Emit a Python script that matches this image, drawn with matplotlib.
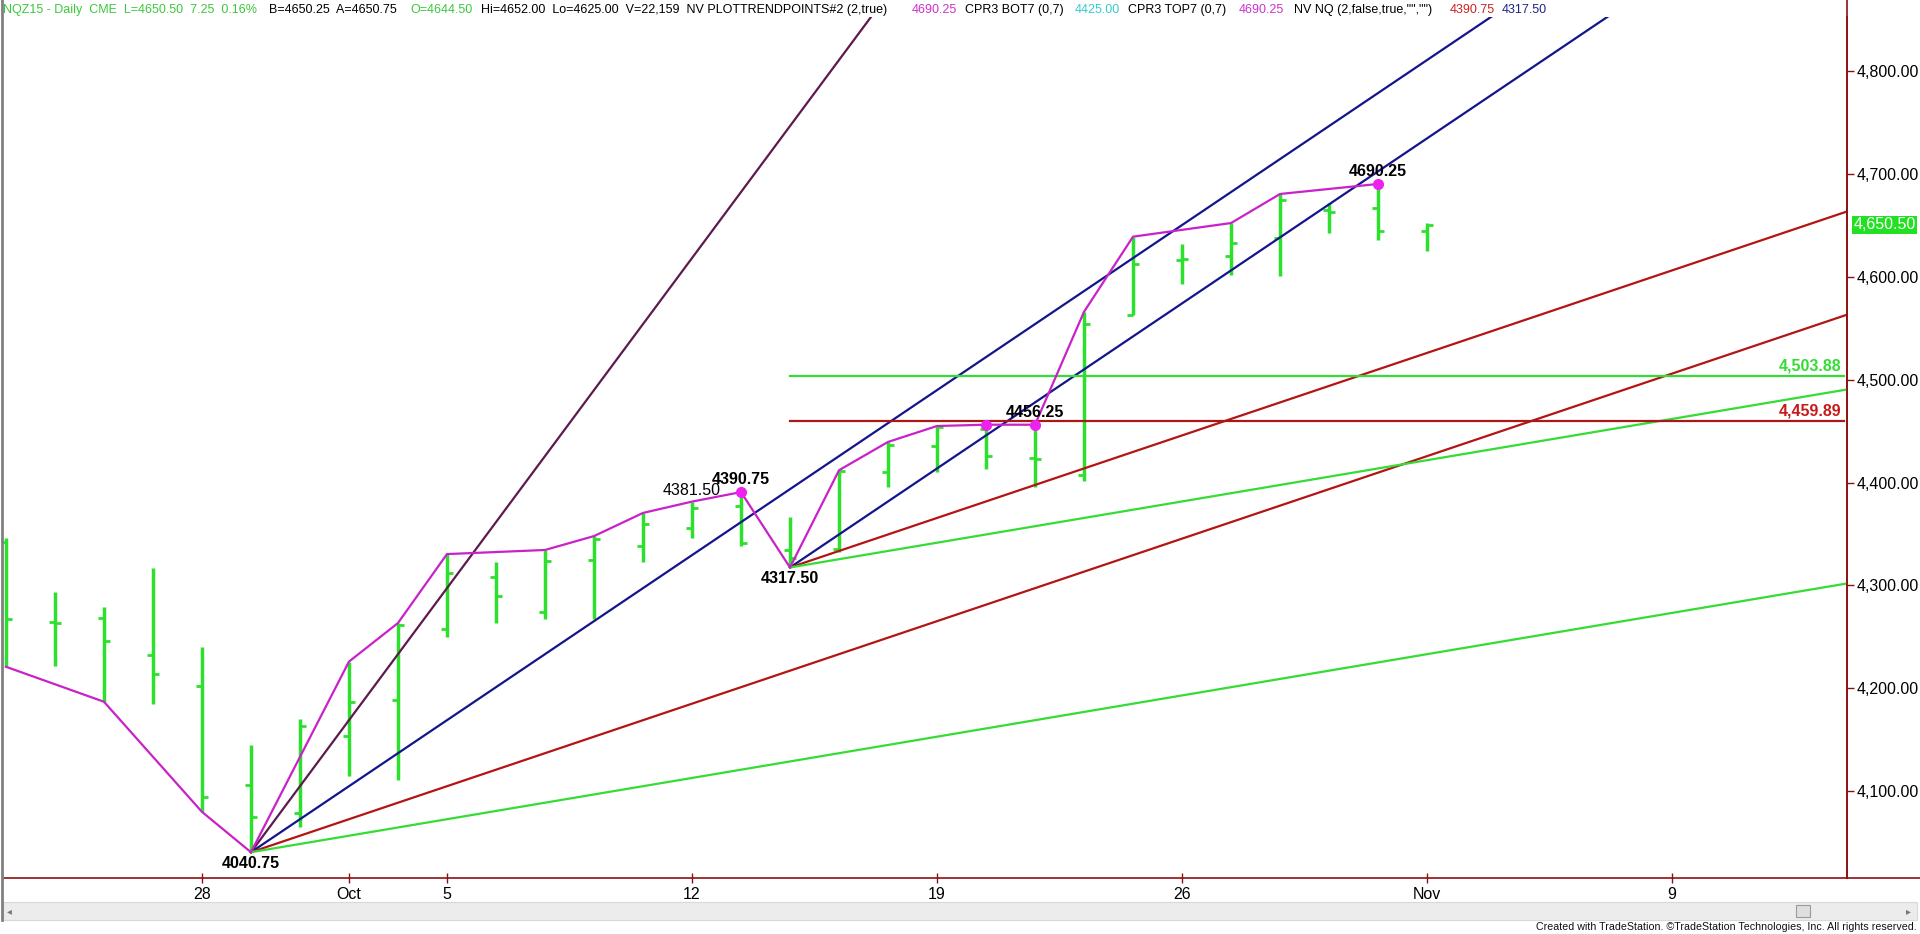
import matplotlib
matplotlib.use("Agg")
import matplotlib.pyplot as plt
from matplotlib.lines import Line2D
from matplotlib.patches import Rectangle
import matplotlib.transforms as mtransforms

SANS = "Liberation Sans"

# daily bars, x = trading-day index (0 = Sep 28)
bar_x = list(range(-4, 26))
opens = [4342.00, 4264.50, 4268.00, 4232.50, 4202.00, 4106.00, 4079.00, 4154.00, 4189.00, 4258.00,
         4308.00, 4274.00, 4325.00, 4338.00, 4356.00, 4377.00, 4334.50, 4335.50, 4410.00, 4435.50,
         4452.00, 4424.00, 4407.50, 4563.00, 4616.50, 4620.00, 4637.75, 4665.00, 4667.00, 4644.50]
highs = [4346.00, 4294.00, 4279.00, 4317.00, 4240.00, 4145.00, 4170.00, 4226.00, 4263.50, 4330.50,
         4323.00, 4334.50, 4348.00, 4370.50, 4381.50, 4390.75, 4366.50, 4412.00, 4439.50, 4455.00,
         4456.25, 4456.25, 4566.00, 4639.00, 4632.00, 4652.25, 4680.50, 4671.75, 4690.25, 4652.00]
lows = [4221.00, 4222.00, 4187.00, 4185.00, 4080.00, 4040.75, 4065.00, 4115.00, 4111.00, 4250.00,
        4263.50, 4267.50, 4267.00, 4323.00, 4346.00, 4338.00, 4317.50, 4333.00, 4396.00, 4410.00,
        4413.00, 4396.00, 4401.50, 4563.00, 4593.00, 4602.00, 4600.75, 4642.50, 4636.00, 4625.00]
closes = [4267.50, 4263.50, 4246.00, 4214.00, 4094.50, 4075.00, 4163.00, 4187.00, 4262.00, 4312.00,
          4290.00, 4324.00, 4345.00, 4360.00, 4375.00, 4341.00, 4327.00, 4411.00, 4436.50, 4454.00,
          4426.00, 4423.00, 4554.00, 4612.50, 4617.00, 4633.00, 4674.50, 4663.00, 4644.50, 4650.50]

# swing line (PLOTTRENDPOINTS)
swing_x = [-4, -2, 0, 1, 3, 4, 5, 7, 8, 9, 10, 11, 12, 13, 14, 15, 16, 17, 18, 19, 21, 22, 24]
swing_y = [4221.00, 4187.00, 4080.00, 4040.75, 4226.00, 4263.50, 4330.50, 4334.50, 4348.00, 4370.50,
           4381.50, 4390.75, 4317.50, 4412.00, 4439.50, 4455.00, 4456.25, 4456.25, 4566.00, 4639.00,
           4652.25, 4680.50, 4690.25]
dot_x = [11, 16, 17, 24]
dot_y = [4390.75, 4456.25, 4456.25, 4690.25]

# fan lines: anchor and points per bar
fan_x0 = [1, 1, 1, 1, 12, 12, 12]
fan_y0 = [4040.75, 4040.75, 4040.75, 4040.75, 4317.50, 4317.50, 4317.50]
fan_slope = [64.16, 32.08, 16.04, 8.02, 32.08, 16.04, 8.02]
fan_color = ["#5c1a4e", "#14148c", "#b31414", "#35dc35", "#14148c", "#b31414", "#35dc35"]

levels = [4503.88, 4459.89]
level_labels = ["4,503.88", "4,459.89"]
level_colors = ["#35dc35", "#a81818"]
level_text_colors = ["#35dc35", "#c81a1a"]
level_start = 12

pivot_labels = ["4040.75", "4381.50", "4390.75", "4317.50", "4456.25", "4690.25"]
pivot_x = [1, 10, 11, 12, 17, 24]
pivot_y = [4040.75, 4381.50, 4390.75, 4317.50, 4456.25, 4690.25]
pivot_dy = [-11, 11, 13, -11, 12, 12]
pivot_bold = [True, False, True, True, True, True]

date_ticks = [0, 3, 5, 10, 15, 20, 25, 30]
date_labels = ["28", "Oct", "5", "12", "19", "26", "Nov", "9"]
price_ticks = [4100, 4200, 4300, 4400, 4500, 4600, 4700, 4800]
last_price = 4650.50

header = [
    ("NQZ15 - Daily  CME  L=4650.50  7.25  0.16%", 3, "#3cc83c"),
    ("B=4650.25  A=4650.75", 269, "#000000"),
    ("O=4644.50", 410, "#3cc83c"),
    ("Hi=4652.00  Lo=4625.00  V=22,159  NV PLOTTRENDPOINTS#2 (2,true)", 481, "#000000"),
    ("4690.25", 912, "#cc33cc"),
    ("CPR3 BOT7 (0,7)", 965, "#000000"),
    ("4425.00", 1075, "#33cccc"),
    ("CPR3 TOP7 (0,7)", 1128, "#000000"),
    ("4690.25", 1239, "#cc33cc"),
    ('NV NQ (2,false,true,"","")', 1294, "#000000"),
    ("4390.75", 1450, "#cc2222"),
    ("4317.50", 1502, "#222288"),
]

W, H = 1920, 934
AX_L, AX_R, AX_T, AX_B = 3, 1847, 17, 878
AXIS_RED = "#8c1010"
BAR_GREEN = "#2ee02e"


def fx(px):
    return px / W


def fy(py):
    return 1 - py / H


fig = plt.figure(figsize=(W / 100, H / 100), dpi=100)
fig.patch.set_facecolor("white")
ax = fig.add_axes([fx(AX_L), fy(AX_B), fx(AX_R - AX_L), (AX_B - AX_T) / H])
ax.set_xlim(-4.06, 33.57)
ax.set_ylim(4015.7, 4852.5)

# bars
for x, o, h, l, c in zip(bar_x, opens, highs, lows, closes):
    ax.plot([x, x], [l, h], color=BAR_GREEN, lw=2.5, solid_capstyle="butt", zorder=2)
    ax.plot([x - 0.13, x], [o, o], color=BAR_GREEN, lw=2.0, solid_capstyle="butt", zorder=2)
    ax.plot([x, x + 0.13], [c, c], color=BAR_GREEN, lw=2.0, solid_capstyle="butt", zorder=2)

# fan lines
x_end = 40
for x0, y0, s, col in zip(fan_x0, fan_y0, fan_slope, fan_color):
    ax.plot([x0, x_end], [y0, y0 + s * (x_end - x0)], color=col, lw=1.6, zorder=3)

# horizontal levels
for lv, lab, col, tcol in zip(levels, level_labels, level_colors, level_text_colors):
    ax.plot([level_start, 33.5], [lv, lv], color=col, lw=1.6, zorder=3)
    ax.annotate(lab, xy=(33.45, lv), xytext=(0, 10), textcoords="offset pixels",
                ha="right", va="center", color=tcol, fontsize=11.5, fontweight="bold",
                family=SANS, zorder=5)

# swing line and pivots
ax.plot(swing_x, swing_y, color="#c822c8", lw=1.6, zorder=4)
ax.plot(dot_x, dot_y, "o", color="#ee22ee", ms=7, zorder=5)
for lab, x, y, dy, b in zip(pivot_labels, pivot_x, pivot_y, pivot_dy, pivot_bold):
    ax.annotate(lab, xy=(x, y), xytext=(0, dy), textcoords="offset pixels",
                ha="center", va="center", fontsize=11.5,
                fontweight="bold" if b else "normal",
                color="#000000", family=SANS, zorder=6)

# axes styling
for s in ["top", "left"]:
    ax.spines[s].set_visible(False)
for s in ["bottom", "right"]:
    ax.spines[s].set_color(AXIS_RED)
    ax.spines[s].set_linewidth(1.2)
ax.yaxis.tick_right()
ax.set_yticks(price_ticks)
ax.set_yticklabels([f"{v:,.2f}" for v in price_ticks], fontsize=11.5, family=SANS)
ax.tick_params(axis="y", direction="out", length=5, width=1, color=AXIS_RED, pad=2)
ax.set_xticks(date_ticks)
ax.set_xticklabels(date_labels, fontsize=11.5, family=SANS)
ax.tick_params(axis="x", direction="inout", length=7, width=1, color=AXIS_RED, pad=3)

# last price box
trans = mtransforms.blended_transform_factory(ax.transAxes, ax.transData)
ax.text(1.0035, last_price, f"{last_price:,.2f}", transform=trans, ha="left", va="center",
        fontsize=11.5, family=SANS, color="white", clip_on=False,
        bbox=dict(boxstyle="square,pad=0.1", facecolor="#22e022", edgecolor="none"))

# frame pieces outside the plot
fig.add_artist(Line2D([fx(AX_R), fx(W)], [fy(AX_B), fy(AX_B)], color=AXIS_RED, lw=1.2))
fig.add_artist(Line2D([fx(AX_R), fx(AX_R)], [fy(AX_B), fy(0)], color=AXIS_RED, lw=1.2))
fig.add_artist(Line2D([fx(1.5), fx(1.5)], [fy(0), fy(920)], color="#808080", lw=2))

# scrollbar
fig.add_artist(Rectangle((fx(3), fy(920)), fx(1914), 18 / H, facecolor="#ececec",
                         edgecolor="#d8d8d8", lw=0.8))
fig.add_artist(Rectangle((fx(1796), fy(917)), fx(14), 12 / H, facecolor="#dedede",
                         edgecolor="#9a9a9a", lw=0.8))
fig.text(fx(9), fy(911), "\u25c2", fontsize=7, color="#777777", ha="center", va="center")
fig.text(fx(1908), fy(911), "\u25b8", fontsize=7, color="#777777", ha="center", va="center")

fig.text(fx(1917), fy(927), "Created with TradeStation. \u00a9TradeStation Technologies, Inc. All rights reserved.",
         ha="right", va="center", fontsize=7.7, family=SANS, color="#111111")

# header
for txt, xpos, col in header:
    fig.text(fx(xpos), fy(10), txt, ha="left", va="center", fontsize=9, family=SANS, color=col)

fig.savefig("out.png", dpi=100, facecolor="white")
